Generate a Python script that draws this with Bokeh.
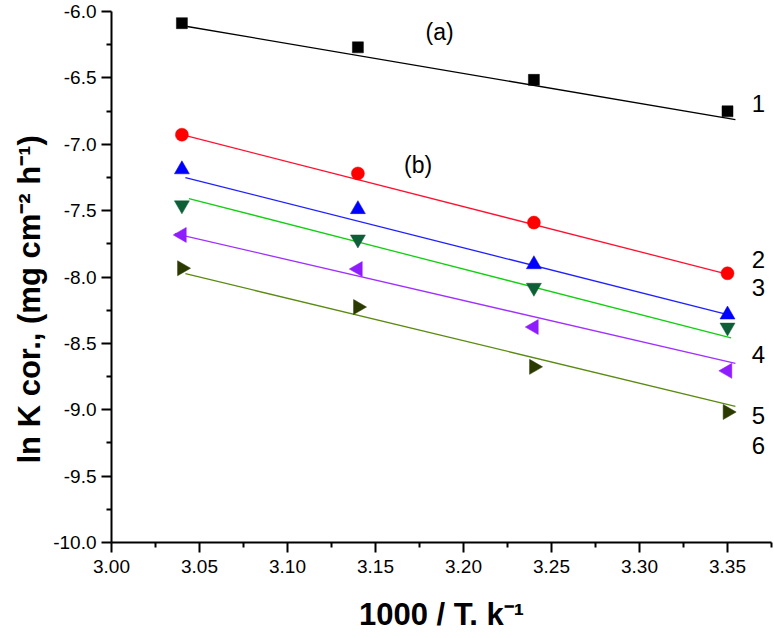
import numpy as np
from bokeh.plotting import figure
from bokeh.models import Range1d, Label, FixedTicker, Title
from bokeh.core.properties import value
from bokeh.embed import file_html
from bokeh.resources import INLINE

# ---- data ----
temps_x = [3.04, 3.14, 3.24, 3.35]
series_names = ["1", "2", "3", "4", "5", "6"]
y1 = [-6.088, -6.270, -6.515, -6.752]
y2 = [-6.928, -7.220, -7.590, -7.972]
y3 = [-7.190, -7.490, -7.905, -8.284]
y4 = [-7.459, -7.716, -8.080, -8.380]
y5 = [-7.683, -7.940, -8.377, -8.707]
y6 = [-7.934, -8.226, -8.677, -9.017]
series_y = [y1, y2, y3, y4, y5, y6]

# fitted lines (start / end points)
fit_x0 = [3.043, 3.040, 3.042, 3.044, 3.036, 3.042]
fit_y0 = [-6.113, -6.928, -7.251, -7.409, -7.673, -7.975]
fit_x1 = [3.3545, 3.352, 3.349, 3.352, 3.3545, 3.3545]
fit_y1 = [-6.815, -7.985, -8.279, -8.458, -8.651, -8.974]

# curve number labels
num_label_x = [3.3676] * 6
num_label_y = [-6.693, -7.868, -8.081, -8.584, -9.047, -9.268]

x_ticks = [3.00, 3.05, 3.10, 3.15, 3.20, 3.25, 3.30, 3.35]
y_ticks = [-10.0, -9.5, -9.0, -8.5, -8.0, -7.5, -7.0, -6.5, -6.0]

# ---- styles ----
markers = ["square", "circle", "triangle", "inverted_triangle", "triangle", "triangle"]
marker_angles = [0, 0, 0, 0, np.pi / 2, -np.pi / 2]
marker_sizes = [11, 13, 15, 15, 15, 15]
marker_colors = ["#000000", "#ff0000", "#0000ff", "#0e5e37", "#8f1cff", "#2b3a00"]
line_colors = ["#000000", "#ff1030", "#2020ff", "#10d010", "#a030ff", "#5a8a10"]

FONT = "Liberation Sans"

p = figure(width=774, height=638, output_backend="svg", toolbar_location=None,
           x_range=Range1d(3.0, 3.375), y_range=Range1d(-10.0, -6.0),
           min_border_left=111, min_border_right=3, min_border_top=11,
           min_border_bottom=96)
p.outline_line_color = None
p.grid.visible = False
p.background_fill_color = "white"
p.border_fill_color = "white"

for ax in (p.xaxis[0], p.yaxis[0]):
    ax.axis_line_width = 2
    ax.axis_line_color = "black"
    ax.major_tick_line_width = 2
    ax.minor_tick_line_width = 2
    ax.major_tick_line_color = "black"
    ax.minor_tick_line_color = "black"
    ax.major_tick_out = 10
    ax.major_tick_in = 0
    ax.minor_tick_out = 5
    ax.minor_tick_in = 0
    ax.major_label_text_font = FONT
    ax.major_label_text_font_size = "19px"
    ax.major_label_text_color = "black"

p.xaxis.ticker = FixedTicker(ticks=x_ticks,
                             minor_ticks=[3.025, 3.075, 3.125, 3.175, 3.225, 3.275, 3.325, 3.375])
p.yaxis.ticker = FixedTicker(ticks=y_ticks,
                             minor_ticks=[-9.75, -9.25, -8.75, -8.25, -7.75, -7.25, -6.75, -6.25])
p.xaxis.major_label_overrides = {t: f"{t:.2f}" for t in x_ticks}
p.yaxis.major_label_overrides = {t: f"{t:.1f}" for t in y_ticks}
p.xaxis.major_label_standoff = 7
p.yaxis.major_label_standoff = 5

# x axis title
p.xaxis.axis_label = "1000 / T. k\u207b\u00b9"
p.xaxis.axis_label_text_font = FONT
p.xaxis.axis_label_text_font_size = "31px"
p.xaxis.axis_label_text_font_style = "bold"
p.xaxis.axis_label_text_color = "black"
p.xaxis.axis_label_standoff = 21

# y axis title (as a side title so it can sit off-centre like the original)
p.add_layout(Title(text="ln K cor., (mg cm\u207b\u00b2 h\u207b\u00b9)", align="left", offset=79,
                   vertical_align="middle", standoff=6, text_font=FONT,
                   text_font_size="31px", text_font_style="bold", text_color="black"), "left")

# fitted lines
p.segment(x0=fit_x0, y0=fit_y0, x1=fit_x1, y1=fit_y1, line_color=line_colors, line_width=1.3)

# data markers
for ys, mk, ang, sz, col in zip(series_y, markers, marker_angles, marker_sizes, marker_colors):
    p.scatter(x=temps_x, y=ys, marker=mk, angle=ang, size=sz,
              fill_color=col, line_color=col, line_width=0.5)

# curve numbers
p.text(x=num_label_x, y=num_label_y, text=series_names, text_font=value(FONT),
       text_font_size="24px", text_align="center", text_baseline="middle", text_color="black")

p.add_layout(Label(x=3.1864, y=-6.151, text="(a)", text_font=FONT, text_font_size="23px",
                   text_align="center", text_baseline="middle", text_color="black"))
p.add_layout(Label(x=3.1742, y=-7.155, text="(b)", text_font=FONT, text_font_size="23px",
                   text_align="center", text_baseline="middle", text_color="black"))

open("out.html", "w").write(file_html(p, INLINE))
